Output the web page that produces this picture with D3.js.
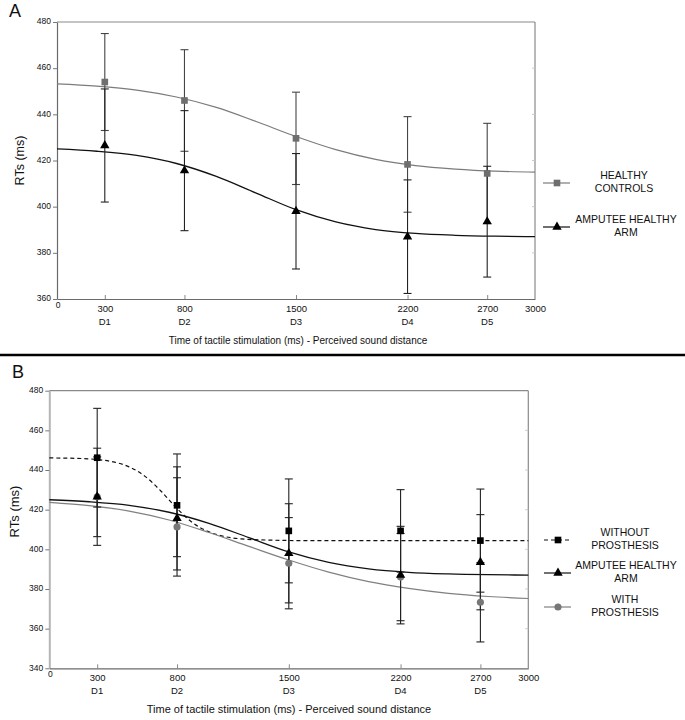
<!DOCTYPE html>
<html><head><meta charset="utf-8">
<script src="https://cdn.jsdelivr.net/npm/d3@7"></script>
<style>
body{margin:0;background:#fff}
svg{display:block}
text{font-family:"Liberation Sans",Arial,Helvetica,sans-serif;fill:#111}
</style>
</head><body>
<svg id="c" width="685" height="720"></svg>
<script>
// ---------- shared ----------
const times = [300, 800, 1500, 2200, 2700];
const distLabels = ["D1", "D2", "D3", "D4", "D5"];
const xTickValues = [300, 800, 1500, 2200, 2700, 3000];
const xTitle = "Time of tactile stimulation (ms) - Perceived sound distance";
const yTitle = "RTs (ms)";

// ---------- panel A ----------
const yTicksA = [360, 380, 400, 420, 440, 460, 480];
const healthyMean = [454, 446, 429.6, 418.3, 414.4];
const healthyErr = [21, 22, 20, 20.7, 21.7];
const amputeeMean = [426.5, 415.6, 398, 387, 393.5];
const amputeeErr = [24.5, 26, 25, 24.6, 24];
// fitted curves at these times
const fitX = [0, 250, 500, 750, 1000, 1250, 1500, 1750, 2000, 2250, 2500, 2750, 3000];
const healthyFit = [453.2, 452.2, 450.5, 447.5, 443.0, 436.9, 430.4, 424.7, 420.5, 417.8, 416.3, 415.4, 415.0];
const amputeeFit = [425.0, 424.0, 422.2, 418.7, 413.1, 405.9, 398.7, 393.4, 390.1, 388.4, 387.6, 387.2, 387.0];
const legendA = [["HEALTHY", "CONTROLS"], ["AMPUTEE HEALTHY", "ARM"]];

// ---------- panel B ----------
const yTicksB = [340, 360, 380, 400, 420, 440, 460, 480];
const withoutMean = [446.2, 422.2, 409.3, 409.3, 404.4];
const withoutErr = [24.9, 25.9, 26.2, 20.8, 26];
const withMean = [426.5, 411.3, 393, 386, 373.3];
const withErr = [20.1, 24.8, 23, 22, 20];
const withoutFitX = [0, 200, 400, 500, 600, 700, 800, 900, 1000, 1100, 1200, 1400, 1600, 3000];
const withoutFit = [446.1, 445.8, 444.1, 441.6, 436.8, 429.3, 420.6, 413.3, 408.8, 406.4, 405.3, 404.6, 404.4, 404.4];
const withFit = [423.7, 422.0, 419.3, 414.8, 408.5, 401.5, 394.6, 388.5, 383.7, 380.3, 377.8, 376.2, 375.2];
const legendB = [["WITHOUT", "PROSTHESIS"], ["AMPUTEE HEALTHY", "ARM"], ["WITH", "PROSTHESIS"]];

const svg = d3.select("#c");

function panel(g, cfg) {
  const x = d3.scaleLinear().domain([0, 3000]).range([cfg.left, cfg.right]);
  const y = d3.scaleLinear().domain([cfg.yTicks[0], cfg.yTicks[cfg.yTicks.length - 1]]).range([cfg.bottom, cfg.top]);

  // frame
  g.append("line").attr("x1", cfg.left).attr("x2", cfg.right).attr("y1", cfg.top).attr("y2", cfg.top)
    .attr("stroke", "#8a8a8a").attr("stroke-width", 1.2);
  g.append("line").attr("x1", cfg.right).attr("x2", cfg.right).attr("y1", cfg.top).attr("y2", cfg.bottom)
    .attr("stroke", "#8a8a8a").attr("stroke-width", 1.2);
  // faint inner ticks on right & top
  g.selectAll(null).data(cfg.yTicks.slice(1, -1)).enter().append("line")
    .attr("x1", cfg.right - 3).attr("x2", cfg.right).attr("y1", d => y(d)).attr("y2", d => y(d))
    .attr("stroke", "#c8c8c8");

  // y axis
  const ya = g.append("g").attr("transform", `translate(${cfg.left},0)`)
    .call(d3.axisLeft(y).tickValues(cfg.yTicks).tickSizeInner(4).tickSizeOuter(0).tickPadding(2).tickFormat(d3.format("d")));
  ya.select(".domain").attr("stroke", cfg.yAxisColor).attr("stroke-width", cfg.yAxisWidth);
  ya.selectAll(".tick line").attr("stroke", "#777");
  ya.selectAll(".tick text").style("font-size", cfg.yTickFont + "px").style("font-family", "'Liberation Sans',Arial,sans-serif").attr("fill", "#333").attr("dy", "0.2em");

  // x axis
  const xa = g.append("g").attr("transform", `translate(0,${cfg.bottom})`)
    .call(d3.axisBottom(x).tickValues(xTickValues).tickSizeInner(-4).tickSizeOuter(0).tickPadding(6).tickFormat(d3.format("d")));
  xa.select(".domain").attr("stroke", "#6a6a6a").attr("stroke-width", 1.2);
  xa.selectAll(".tick line").attr("stroke", "#888").attr("opacity", (d) => d === 3000 ? 0 : 1);
  xa.selectAll(".tick text").style("font-size", cfg.xTickFont + "px").style("font-family", "'Liberation Sans',Arial,sans-serif").attr("fill", "#111");
  // origin label
  g.append("text").attr("x", x(0) + 1).attr("y", cfg.bottom + 9).attr("text-anchor", "middle")
    .style("font-size", cfg.yTickFont + "px").attr("fill", "#333").text("0");
  // distance labels
  g.selectAll(null).data(times).enter().append("text")
    .attr("x", d => x(d)).attr("y", cfg.bottom + 26).attr("text-anchor", "middle")
    .style("font-size", cfg.xTickFont + "px").text((d, i) => distLabels[i]);

  // titles
  g.append("text").attr("x", cfg.xTitleX).attr("y", cfg.bottom + 45).attr("text-anchor", "middle")
    .style("font-size", cfg.xTitleFont + "px").text(xTitle);
  g.append("text").attr("transform", `translate(${cfg.yTitleX},${(cfg.top + cfg.bottom) / 2 + cfg.yTitleShift}) rotate(-90)`)
    .attr("text-anchor", "middle").style("font-size", cfg.yTitleFont + "px").text(yTitle);
  g.append("text").attr("x", cfg.letterX).attr("y", cfg.letterY).style("font-size", "18px").text(cfg.letter);

  return {x, y};
}

function curve(g, x, y, xs, ys, color, width, dash) {
  const line = d3.line().x(d => x(d[0])).y(d => y(d[1])).curve(d3.curveMonotoneX);
  g.append("path").datum(xs.map((v, i) => [v, ys[i]])).attr("d", line)
    .attr("fill", "none").attr("stroke", color).attr("stroke-width", width)
    .attr("stroke-dasharray", dash || null);
}

function errBars(g, x, y, means, errs, color) {
  const cap = 4;
  times.forEach((t, i) => {
    const cx = x(t), y1 = y(means[i] + errs[i]), y2 = y(means[i] - errs[i]);
    g.append("line").attr("x1", cx).attr("x2", cx).attr("y1", y1).attr("y2", y2).attr("stroke", color).attr("stroke-width", 1.1);
    [y1, y2].forEach(yy => g.append("line").attr("x1", cx - cap).attr("x2", cx + cap).attr("y1", yy).attr("y2", yy)
      .attr("stroke", color).attr("stroke-width", 1.1));
  });
}

const sq = d3.symbol().type(d3.symbolSquare).size(44);
const tri = d3.symbol().type(d3.symbolTriangle).size(38);
const circ = d3.symbol().type(d3.symbolCircle).size(40);

function markers(g, x, y, means, sym, color) {
  g.selectAll(null).data(times).enter().append("path")
    .attr("d", sym).attr("fill", color)
    .attr("transform", (d, i) => `translate(${x(d)},${y(means[i])})`);
}

function legendItem(g, cx, cy, sym, color, lineColor, dash, lines, textX) {
  g.append("line").attr("x1", cx - 14).attr("x2", cx + 13).attr("y1", cy).attr("y2", cy)
    .attr("stroke", lineColor).attr("stroke-width", 1.2).attr("stroke-dasharray", dash || null);
  g.append("path").attr("d", sym).attr("fill", color).attr("transform", `translate(${cx},${cy})`);
  lines.forEach((s, k) => g.append("text").attr("x", textX).attr("y", cy - 4 + k * 12.5)
    .attr("text-anchor", "middle").style("font-size", "10.5px").text(s));
}

// ===== Panel A =====
const gA = svg.append("g");
const A = panel(gA, {left: 57, right: 535, top: 22, bottom: 299, yTicks: yTicksA,
  yAxisColor: "#6a6a6a", yAxisWidth: 1.2, yTickFont: 8.5, xTickFont: 9.5, xTitleFont: 10, xTitleX: 298,
  yTitleX: 24, yTitleFont: 12.5, yTitleShift: 0, letter: "A", letterX: 9, letterY: 17});
curve(gA, A.x, A.y, fitX, healthyFit, "#7c7c7c", 1.2);
curve(gA, A.x, A.y, fitX, amputeeFit, "#111", 1.3);
errBars(gA, A.x, A.y, healthyMean, healthyErr, "#444");
errBars(gA, A.x, A.y, amputeeMean, amputeeErr, "#222");
markers(gA, A.x, A.y, healthyMean, sq, "#6e6e6e");
markers(gA, A.x, A.y, amputeeMean, tri, "#000");
legendItem(gA, 557, 183, sq, "#6e6e6e", "#7c7c7c", null, legendA[0], 624);
legendItem(gA, 557, 227, tri, "#000", "#111", null, legendA[1], 626);

// separator
svg.append("line").attr("x1", 0).attr("x2", 685).attr("y1", 355).attr("y2", 355).attr("stroke", "#000").attr("stroke-width", 2.5);

// ===== Panel B =====
const gB = svg.append("g");
const B = panel(gB, {left: 49.3, right: 528.3, top: 390.7, bottom: 668.3, yTicks: yTicksB,
  yAxisColor: "#b5b5b5", yAxisWidth: 2, yTickFont: 8.5, xTickFont: 9.5, xTitleFont: 11, xTitleX: 289,
  yTitleX: 19, yTitleFont: 13, yTitleShift: -18, letter: "B", letterX: 12, letterY: 378});
curve(gB, B.x, B.y, withoutFitX, withoutFit, "#111", 1.2, "4,3");
curve(gB, B.x, B.y, fitX, amputeeFit, "#111", 1.3);
curve(gB, B.x, B.y, fitX, withFit, "#808080", 1.2);
errBars(gB, B.x, B.y, withMean, withErr, "#222");
errBars(gB, B.x, B.y, amputeeMean, amputeeErr, "#222");
errBars(gB, B.x, B.y, withoutMean, withoutErr, "#222");
markers(gB, B.x, B.y, withMean, circ, "#777");
markers(gB, B.x, B.y, amputeeMean, tri, "#000");
markers(gB, B.x, B.y, withoutMean, sq, "#000");
legendItem(gB, 558, 540, sq, "#000", "#111", "4,3", legendB[0], 625);
legendItem(gB, 558, 573, tri, "#000", "#111", null, legendB[1], 626);
legendItem(gB, 558, 607, circ, "#777", "#808080", null, legendB[2], 625);
</script>
</body></html>
